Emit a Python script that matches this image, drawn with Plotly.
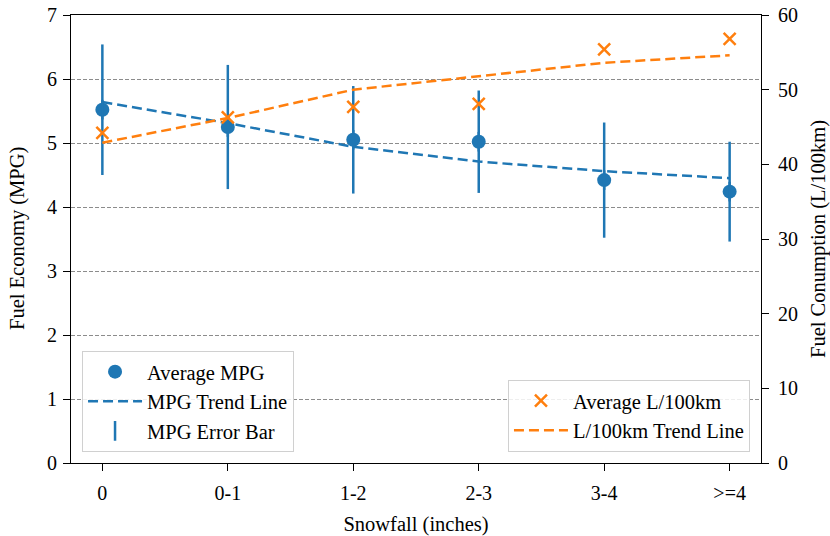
import plotly.graph_objects as go

categories = ["0", "0-1", "1-2", "2-3", "3-4", ">=4"]
avg_mpg = [5.52, 5.25, 5.05, 5.02, 4.42, 4.24]
mpg_err = [1.02, 0.97, 0.84, 0.80, 0.90, 0.78]
mpg_trend = [5.64, 5.31, 4.94, 4.71, 4.56, 4.45]
avg_l100 = [44.2, 46.3, 47.7, 48.1, 55.4, 56.8]
l100_trend = [42.9, 46.2, 50.0, 51.8, 53.6, 54.6]

BLUE = "#1f77b4"
ORANGE = "#ff7f0e"
FONT = "Liberation Serif, Times New Roman, Times, serif"
TXT = 20.5

fig = go.Figure()

fig.add_trace(go.Scatter(
    x=categories, y=avg_mpg, mode="markers", name="Average MPG",
    marker=dict(color=BLUE, size=14, symbol="circle"),
    legend="legend", yaxis="y"))
fig.add_trace(go.Scatter(
    x=categories, y=mpg_trend, mode="lines", name="MPG Trend Line",
    line=dict(color=BLUE, width=2.5, dash="10px,5px"),
    legend="legend", yaxis="y"))
fig.add_trace(go.Scatter(
    x=categories, y=avg_mpg, mode="markers", name="MPG Error Bar",
    marker=dict(color=BLUE, size=14, symbol="line-ns-open", line=dict(color=BLUE, width=2.5)),
    error_y=dict(type="data", array=mpg_err, visible=True, color=BLUE, thickness=2.5, width=0),
    legend="legend", yaxis="y"))

fig.add_trace(go.Scatter(
    x=categories, y=avg_l100, mode="markers", name="Average L/100km",
    marker=dict(color=ORANGE, size=12, symbol="x-thin-open", line=dict(color=ORANGE, width=2.5)),
    legend="legend2", yaxis="y2"))
fig.add_trace(go.Scatter(
    x=categories, y=l100_trend, mode="lines", name="L/100km Trend Line",
    line=dict(color=ORANGE, width=2.5, dash="10px,5px"),
    legend="legend2", yaxis="y2"))

axis_common = dict(showline=True, linecolor="black", linewidth=1.2, ticks="outside",
                   ticklen=7, tickwidth=1.2, tickcolor="black", automargin=False,
                   ticklabeloverflow="allow",
                   tickfont=dict(family=FONT, size=20, color="black"))

legend_common = dict(bgcolor="rgba(255,255,255,0.85)", bordercolor="#d0d0d0", borderwidth=1,
                     font=dict(family=FONT, size=20.5, color="black"), itemwidth=54,
                     tracegroupgap=0)

fig.update_layout(
    width=830, height=536,
    margin=dict(l=71, r=69, t=15, b=73),
    plot_bgcolor="white", paper_bgcolor="white",
    font=dict(family=FONT, size=TXT, color="black"),
    showlegend=True,
    xaxis=dict(**axis_common, range=[-0.25, 5.25], mirror=True, showgrid=False,
               ticklabelstandoff=5,
               title=dict(text="Snowfall (inches)", font=dict(family=FONT, size=TXT))),
    yaxis=dict(**axis_common, range=[0, 7], dtick=1, showgrid=True, gridcolor="#8c8c8c",
               griddash="4px,2px", gridwidth=1, zeroline=False, ticklabelstandoff=2),
    yaxis2=dict(**axis_common, range=[0, 60], dtick=10, overlaying="y", side="right",
                showgrid=False, zeroline=False, ticklabelstandoff=5),
    legend=dict(**legend_common, x=0.016, y=0.025, xanchor="left", yanchor="bottom"),
    legend2=dict(**legend_common, x=0.984, y=0.025, xanchor="right", yanchor="bottom"),
    annotations=[
        dict(text="Fuel Economy (MPG)", xref="paper", yref="paper", x=0, y=0.5,
             xanchor="center", yanchor="middle", xshift=-54, textangle=-90,
             showarrow=False, font=dict(family=FONT, size=TXT, color="black")),
        dict(text="Fuel Conumption (L/100km)", xref="paper", yref="paper", x=1, y=0.5,
             xanchor="center", yanchor="middle", xshift=57, textangle=-90,
             showarrow=False, font=dict(family=FONT, size=TXT, color="black")),
    ],
)

fig.write_html("out.html", config={"displayModeBar": False},
               post_script="document.body.style.margin='0px';")
